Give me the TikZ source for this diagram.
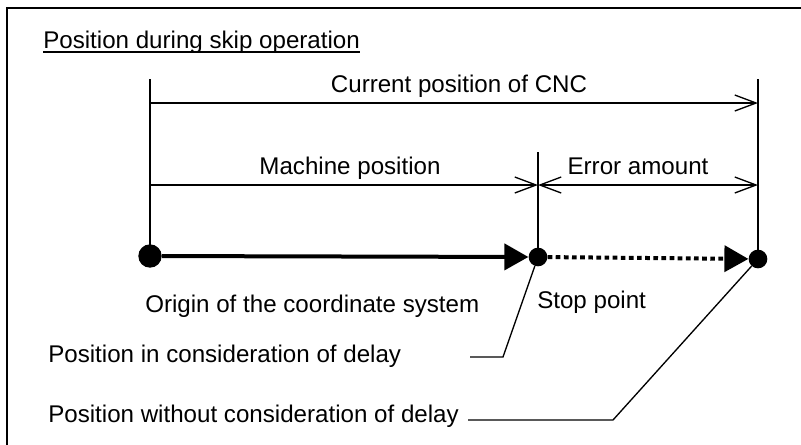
\documentclass[tikz,border=0pt]{standalone}
\usepackage{fontspec}
\setmainfont{Liberation Sans}
\usetikzlibrary{
  positioning,
  arrows.meta
}
\tikzset{
  label/.style={inner sep=0pt,font=\fontsize{18.1}{20}\selectfont},
  frame/.style={line width=1.5pt},
  dimline/.style={line width=1pt},
  dimarrow/.style={dimline,-{Straight Barb[length=16pt,width=12pt]}},
  dimboth/.style={dimline,{Straight Barb[length=16pt,width=12pt]}-{Straight Barb[length=16pt,width=12pt]}},
  point/.style={circle,fill=black,inner sep=0pt,minimum size=14pt},
  movearrow/.style={line width=3pt,-{Triangle[length=18pt,width=19.5pt]}},
  leader/.style={line width=1pt}
}

\begin{document}
\begin{tikzpicture}[x=0.75pt,y=-0.75pt]
    \useasboundingbox (0,0) rectangle (801,444);
    \draw[frame] (7,460) -- (7,8) -- (815,8);

    % title
    \node[label,anchor=base west] (title) at (43,48) {Position during skip operation};
    \draw[line width=1.2pt] ([yshift=-3.2pt]title.base west) -- ([yshift=-3.2pt]title.base east);

    % points on the axis
    \node[point,minimum size=17.5pt] (orig) at (150,256) {};
    \node[point] (stop) at (538,257) {};
    \node[point] (endpt) at (758,259) {};

    % extension lines
    \coordinate (origtop) at (150,79);
    \coordinate (stoptop) at (538,152);
    \coordinate (endtop) at (758,79);
    \draw[dimline] (origtop) -- (orig.center);
    \draw[dimline] (stoptop) -- (stop.center);
    \draw[dimline] (endtop) -- (endpt.center);

    % dimension lines
    \coordinate (cncL) at (150,103);
    \coordinate (cncR) at (758,103);
    \coordinate (machL) at (150,185);
    \coordinate (machR) at (538,185);
    \coordinate (errR) at (758,185);
    \draw[dimarrow] (cncL) -- (cncR);
    \draw[dimarrow] (machL) -- (machR);
    \draw[dimboth] (machR) -- (errR);
    \node[label,anchor=base] (cnc) at (459,92) {Current position of CNC};
    \node[label,anchor=base] (mach) at (350,174) {Machine position};
    \node[label,anchor=base] (err) at (638,174) {Error amount};

    % movement
    \draw[movearrow] (orig) -- (stop);
    \draw[movearrow,dash pattern=on 3.5pt off 2.6pt] (stop) -- (endpt);

    \node[label,anchor=base west] (origtxt) at (145,312) {Origin of the coordinate system};
    \node[label,anchor=base west] (stoptxt) at (537,308) {Stop point};

    % leaders
    \node[label,anchor=base west] (withdelay) at (48,362) {Position in consideration of delay};
    \node[label,anchor=base west] (nodelay) at (48,422) {Position without consideration of delay};
    \coordinate (lead1) at (470,357);
    \coordinate (bend1) at (503,357);
    \coordinate (lead2) at (468,420);
    \coordinate (bend2) at (613,420);
    \draw[leader] (lead1) -- (bend1) -- (stop);
    \draw[leader] (lead2) -- (bend2) -- (endpt);
\end{tikzpicture}
\end{document}
